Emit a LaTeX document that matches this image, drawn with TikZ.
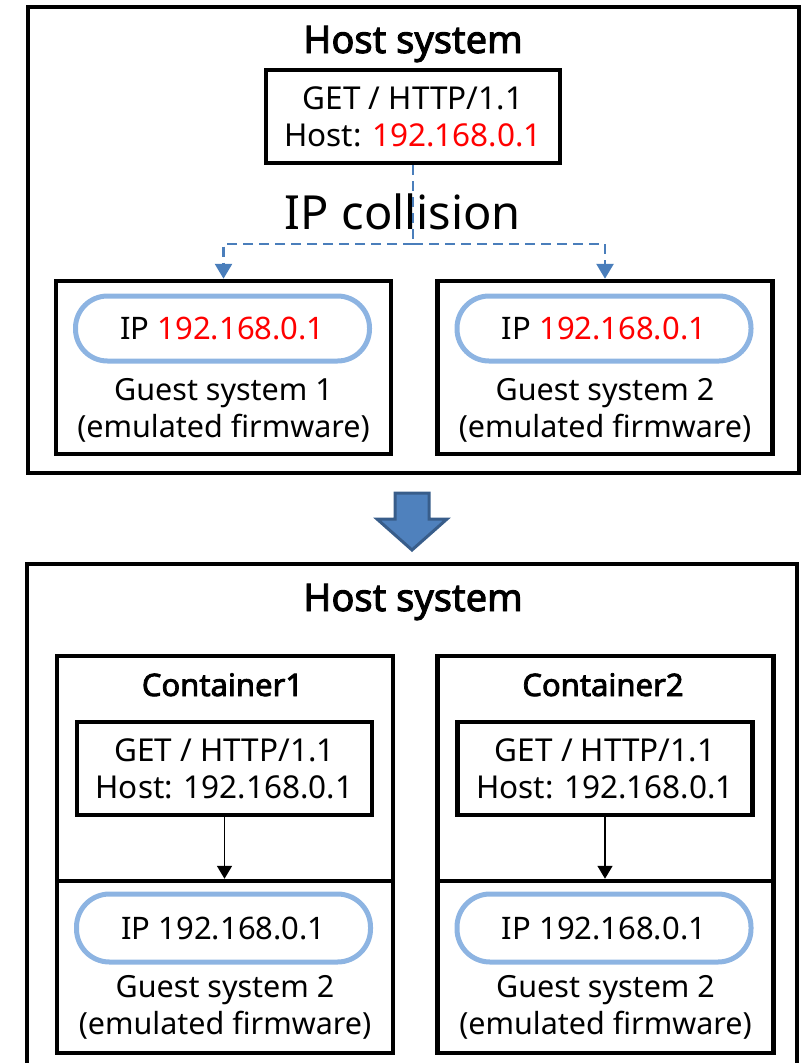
\documentclass[tikz,border=0pt]{standalone}
\usepackage{fontspec}
\setmainfont{Noto Sans}[AutoFakeBold=2.5]
\usepackage{xcolor}
\usetikzlibrary{arrows.meta,fit}

\definecolor{linkblue}{RGB}{74,126,187}
\definecolor{ipblue}{RGB}{141,180,226}
\definecolor{arrowfill}{RGB}{79,129,189}
\definecolor{arrowline}{RGB}{56,93,138}
\definecolor{ipred}{RGB}{255,0,0}

\begin{document}
\begin{tikzpicture}[x=1pt, y=-1pt,
  box/.style={draw, line width=4.5pt, inner sep=0pt},
  body/.style={font=\fontsize{31.5}{37}\selectfont, align=center, inner sep=0pt},
  gbody/.style={font=\fontsize{30.5}{37}\selectfont, align=center, inner sep=0pt},
  title/.style={font=\fontsize{38}{44}\selectfont\bfseries, inner sep=0pt, anchor=base},
  ctitle/.style={font=\fontsize{31}{36}\selectfont\bfseries, inner sep=0pt, anchor=base},
  iplabel/.style={draw=ipblue, line width=5pt, rounded corners=32pt, minimum width=294pt,
    minimum height=65pt, inner sep=0pt, font=\fontsize{31}{37}\selectfont},
  collide/.style={draw=linkblue, line width=2.8pt, dash pattern=on 10pt off 6pt},
]
\useasboundingbox (0,0) rectangle (802,1063);

% top: one host, two guests with the same address
\node[box, minimum width=771pt, minimum height=466pt] (hostA) at (413.5,240) {};
\node[title] (hostAtitle) at (413,53) {Host system};
\node[box, body, minimum width=294pt, minimum height=93pt] (req) at (413,116.5)
  {GET / HTTP/1.1\\Host: \textcolor{ipred}{192.168.0.1}};
\node[font=\fontsize{47}{52}\selectfont, anchor=base, inner sep=0pt] (collision) at (403,229) {IP collision};
\foreach \n/\x/\k in {A/223.5/1, B/605/2}{
  \node[box, minimum width=335pt, minimum height=173pt] (guest\n) at (\x,367.5) {};
  \node[iplabel] (ip\n) at (\x-1,328.5) {IP \textcolor{ipred}{192.168.0.1}};
  \node[gbody] (name\n) at (\x,410.5) {Guest system \k\\(emulated firmware)};
}
\coordinate (split) at (413,244);
\draw[collide] (req.south) -- (split);
\foreach \n in {A,B}
  \draw[collide, -{Triangle[width=17pt,length=15pt]}] (split) -| (guest\n.north);

% big arrow between the two halves
\filldraw[fill=arrowfill, draw=arrowline, line width=3pt] (395,493) -- (429,493) -- (429,519)
  -- (447,519) -- (412,550) -- (377,519) -- (395,519) -- cycle;

% bottom: one container per guest
\node[box, minimum width=770pt, minimum height=536pt] (hostB) at (412,832) {};
\node[title] (hostBtitle) at (413,611) {Host system};
\foreach \n/\x/\k in {A/225/1, B/605.5/2}{
  \node[box, minimum width=336pt, minimum height=397pt] (cont\n) at (\x,854.5) {};
  \node[box, minimum width=336pt, minimum height=172pt] (cguest\n) at (\x,967) {};
  \node[ctitle] (ctitle\n) at (\x-2.5,696) {Container\k};
  \node[box, body, minimum width=295pt, minimum height=93pt] (creq\n) at (\x-0.5,768.5)
    {GET / HTTP/1.1\\Host: 192.168.0.1};
  \node[iplabel, minimum height=68pt, rounded corners=33pt] (cip\n) at (\x-1.5,928) {IP 192.168.0.1};
  \node[gbody] (cname\n) at (\x,1007) {Guest system 2\\(emulated firmware)};
  \draw[-{Triangle[width=15pt,length=13pt]}, line width=1.8pt] (creq\n.south) -- (creq\n.south |- cguest\n.north);
}
\end{tikzpicture}
\end{document}
